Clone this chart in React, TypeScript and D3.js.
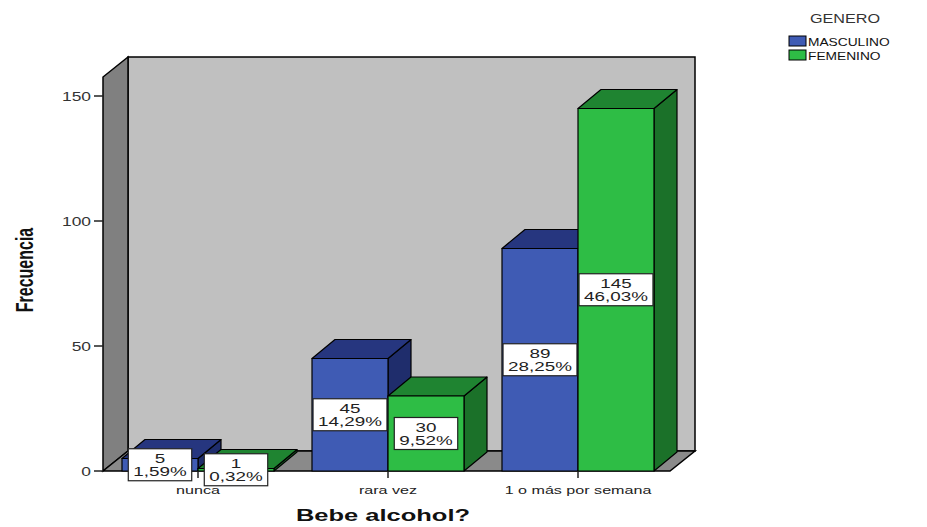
import React from "react";
import * as d3 from "d3";

const categories = ["nunca", "rara vez", "1 o más por semana"];
const seriesNames = ["MASCULINO", "FEMENINO"];
const masculino = [5, 45, 89];
const femenino = [1, 30, 145];
const masculinoPct = ["1,59%", "14,29%", "28,25%"];
const femeninoPct = ["0,32%", "9,52%", "46,03%"];
const yTicks = [0, 50, 100, 150];
const yTitle = "Frecuencia";
const xTitle = "Bebe alcohol?";
const legendTitle = "GENERO";

const W = 927;
const H = 527;
const FONT = "'Liberation Sans', Arial, sans-serif";

const colors = [
  { front: "#3f5bb4", top: "#26367f", side: "#1f2d6c" },
  { front: "#2ebd45", top: "#1f8431", side: "#1b7129" },
];

let ctx: CanvasRenderingContext2D | null = null;
function measure(t: string, size: number, weight = "normal") {
  if (!ctx) ctx = document.createElement("canvas").getContext("2d");
  if (!ctx) return t.length * size * 0.55;
  ctx.font = `${weight} ${size}px 'Liberation Sans', Arial, sans-serif`;
  return ctx.measureText(t).width;
}

function SText(props: {
  x: number;
  y: number;
  size: number;
  sx?: number;
  anchor?: string;
  weight?: string;
  fill?: string;
  rotate?: number;
  children: string;
}) {
  const { x, y, size, sx = 1.45, anchor = "middle", weight = "normal", fill = "#000", rotate = 0 } = props;
  const tf = rotate
    ? `translate(${x},${y}) rotate(${rotate}) scale(1,${sx})`
    : `translate(${x},${y}) scale(${sx},1)`;
  return (
    <text
      transform={tf}
      fontSize={size}
      fontFamily={FONT}
      fontWeight={weight}
      textAnchor={anchor}
      fill={fill}
    >
      {props.children}
    </text>
  );
}

export default function App() {
  const x0 = 103;
  const x1 = 673;
  const depthX = 25;
  const depthY = -20;
  const barDX = 23;
  const barDY = -19;

  const y = d3.scaleLinear().domain([0, 150]).range([471, 96]);
  const yTop = 77;
  const yBase = y(0);

  const xBand = d3
    .scaleBand<string>()
    .domain(categories)
    .range([x0, x1])
    .paddingInner(0.2)
    .paddingOuter(0.1);
  const xSub = d3
    .scaleBand<string>()
    .domain(seriesNames)
    .range([0, xBand.bandwidth()])
    .padding(0);

  const values = [masculino, femenino];
  const pcts = [masculinoPct, femeninoPct];

  const poly = (pts: [number, number][]) => pts.map((p) => p.join(",")).join(" ");

  const LS = 13;
  const LSX = 1.45;

  const bars: JSX.Element[] = [];
  const labels: JSX.Element[] = [];
  categories.forEach((c, ci) => {
    seriesNames.forEach((s, si) => {
      const v = values[si][ci];
      const bx = (xBand(c) as number) + (xSub(s) as number);
      const bw = xSub.bandwidth();
      const top = y(v);
      const col = colors[si];
      bars.push(
        <g key={`b${ci}${si}`} stroke="#000" strokeWidth={1.2} strokeLinejoin="round">
          <polygon
            points={poly([
              [bx + bw, yBase],
              [bx + bw + barDX, yBase + barDY],
              [bx + bw + barDX, top + barDY],
              [bx + bw, top],
            ])}
            fill={col.side}
          />
          <polygon
            points={poly([
              [bx, top],
              [bx + barDX, top + barDY],
              [bx + bw + barDX, top + barDY],
              [bx + bw, top],
            ])}
            fill={col.top}
          />
          <rect x={bx} y={top} width={bw} height={yBase - top} fill={col.front} />
        </g>
      );
      const cx = bx + bw / 2;
      const cy = (top + yBase) / 2;
      const l1 = String(v);
      const l2 = pcts[si][ci];
      const tw = Math.max(measure(l1, LS), measure(l2, LS)) * LSX;
      const boxW = tw + 10;
      const boxH = 32;
      labels.push(
        <g key={`l${ci}${si}`}>
          <rect
            x={cx - boxW / 2}
            y={cy - boxH / 2}
            width={boxW}
            height={boxH}
            fill="#fff"
            stroke="#222"
            strokeWidth={1.2}
          />
          <SText x={cx} y={cy - 2} size={LS} sx={LSX} fill="#222">
            {l1}
          </SText>
          <SText x={cx} y={cy + 11} size={LS} sx={LSX} fill="#222">
            {l2}
          </SText>
        </g>
      );
    });
  });

  return (
    <svg
      width={W}
      height={H}
      style={{ position: "absolute", left: 0, top: 0, background: "#fff" }}
    >
      {/* back wall */}
      <rect
        x={x0 + depthX}
        y={yTop + depthY}
        width={x1 - x0 - 3}
        height={yBase - yTop}
        fill="#c0c0c0"
        stroke="#000"
        strokeWidth={1.5}
      />
      {/* left side wall */}
      <polygon
        points={poly([
          [x0, yBase],
          [x0, yTop],
          [x0 + depthX, yTop + depthY],
          [x0 + depthX, yBase + depthY],
        ])}
        fill="#808080"
        stroke="#000"
        strokeWidth={1.5}
      />
      {/* floor */}
      <polygon
        points={poly([
          [x0, yBase],
          [x0 + depthX, yBase + depthY],
          [x1 - 3 + depthX, yBase + depthY],
          [x1 - 3, yBase],
        ])}
        fill="#8a8a8a"
        stroke="#000"
        strokeWidth={1.5}
      />
      {/* y axis ticks */}
      {yTicks.map((t) => (
        <g key={t}>
          <line x1={x0 - 9} x2={x0} y1={y(t)} y2={y(t)} stroke="#222" strokeWidth={1.5} />
          <SText x={x0 - 12} y={y(t) + 4.5} size={12} sx={1.45} anchor="end" fill="#333">
            {String(t)}
          </SText>
        </g>
      ))}
      {bars}
      {/* x axis ticks */}
      {categories.map((c) => {
        const cx = (xBand(c) as number) + xBand.bandwidth() / 2;
        return (
          <g key={c}>
            <line x1={cx} x2={cx} y1={yBase} y2={yBase + 7} stroke="#222" strokeWidth={1.5} />
            <SText x={cx} y={yBase + 23} size={11.5} sx={1.4} fill="#222">
              {c}
            </SText>
          </g>
        );
      })}
      {labels}
      {/* axis titles */}
      <SText x={383} y={521} size={17} sx={1.5} weight="bold" fill="#111">
        {xTitle}
      </SText>
      <SText x={33} y={270} size={16} sx={1.55} weight="bold" fill="#111" rotate={-90}>
        {yTitle}
      </SText>
      {/* legend */}
      <SText x={845} y={23} size={12} sx={1.35} fill="#333">
        {legendTitle}
      </SText>
      {seriesNames.map((s, i) => (
        <g key={s}>
          <rect
            x={789}
            y={36 + i * 14}
            width={17}
            height={10}
            fill={colors[i].front}
            stroke="#000"
            strokeWidth={1}
          />
          <SText x={808} y={46 + i * 14} size={11} sx={1.25} anchor="start" fill="#111">
            {s}
          </SText>
        </g>
      ))}
    </svg>
  );
}
